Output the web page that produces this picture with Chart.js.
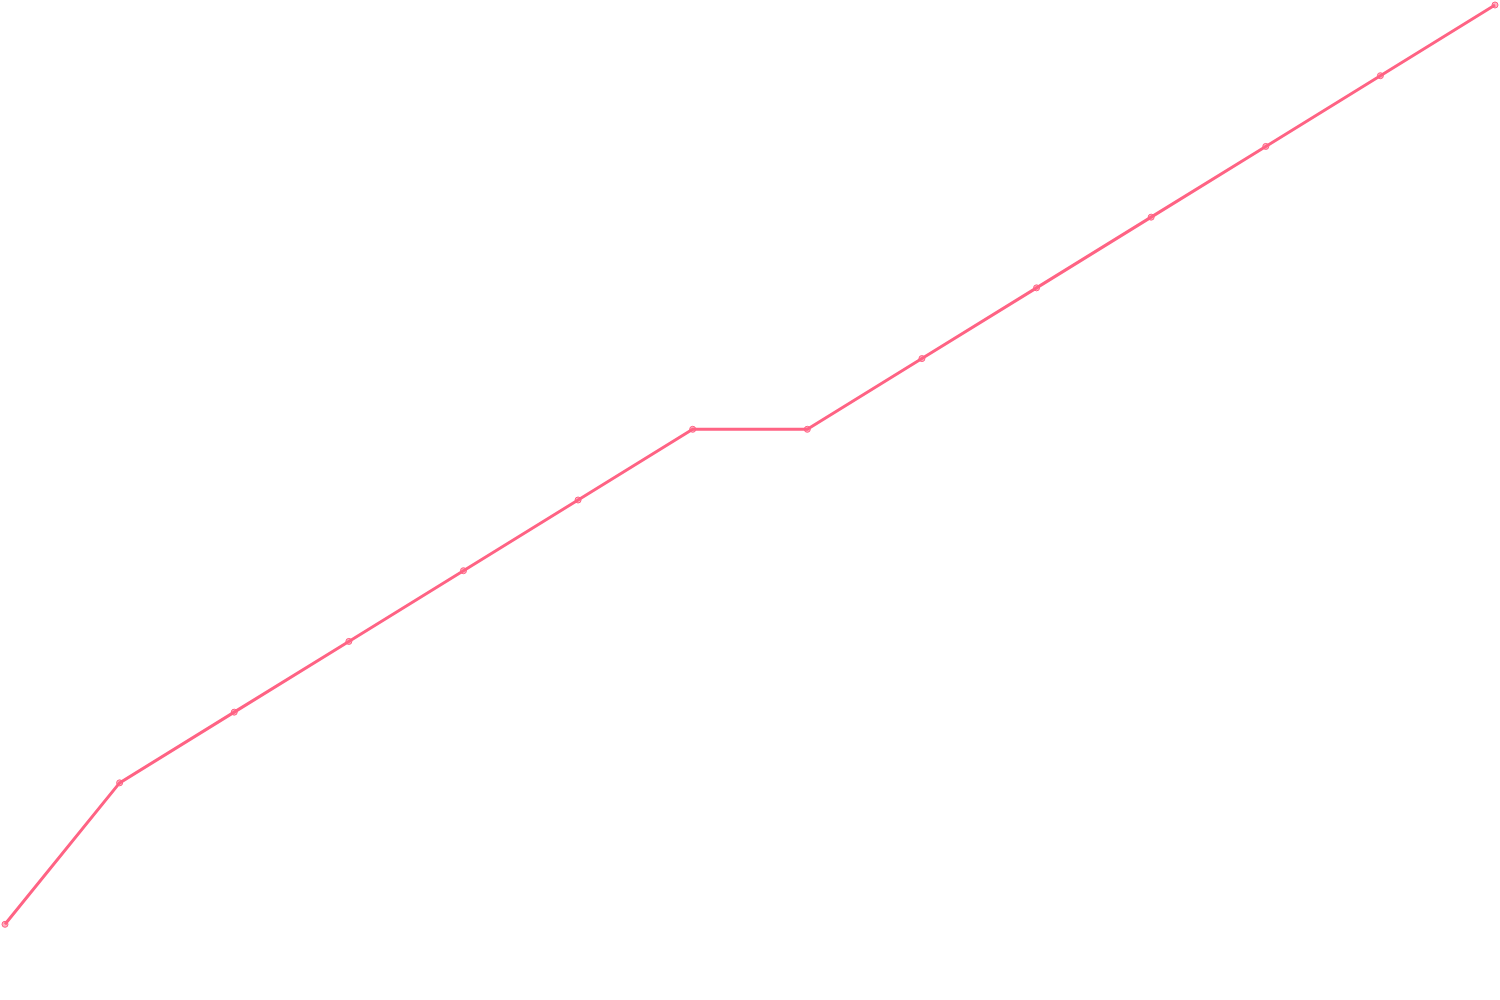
<!DOCTYPE html>
<html>
<head>
<meta charset="utf-8">
<script src="https://cdn.jsdelivr.net/npm/chart.js@4"></script>
<style>
html,body{margin:0;padding:0;background:#fff;}
#wrap{width:1500px;height:1000px;}
</style>
</head>
<body>
<div id="wrap"><canvas id="c"></canvas></div>
<script>
const labels = ['1','2','3','4','5','6','7','8','9','10','11','12','13','14'];
const values = [1,3,4,5,6,7,8,8,9,10,11,12,13,14];
const yMin = 0;
const yMax = 14;

new Chart(document.getElementById('c'), {
  type: 'line',
  data: {
    labels: labels,
    datasets: [{
      label: 'Series',
      data: values,
      borderColor: 'rgb(255, 99, 132)',
      backgroundColor: 'rgba(255, 99, 132, 0.5)',
      borderWidth: 3,
      pointRadius: 3,
      pointBorderWidth: 1,
      tension: 0,
      clip: false
    }]
  },
  options: {
    responsive: true,
    maintainAspectRatio: false,
    animation: false,
    layout: { autoPadding: false, padding: 5 },
    plugins: { legend: { display: false }, title: { display: false }, tooltip: { enabled: false } },
    scales: {
      x: { display: false },
      y: { display: false, min: yMin, max: yMax }
    }
  }
});
</script>
</body>
</html>
